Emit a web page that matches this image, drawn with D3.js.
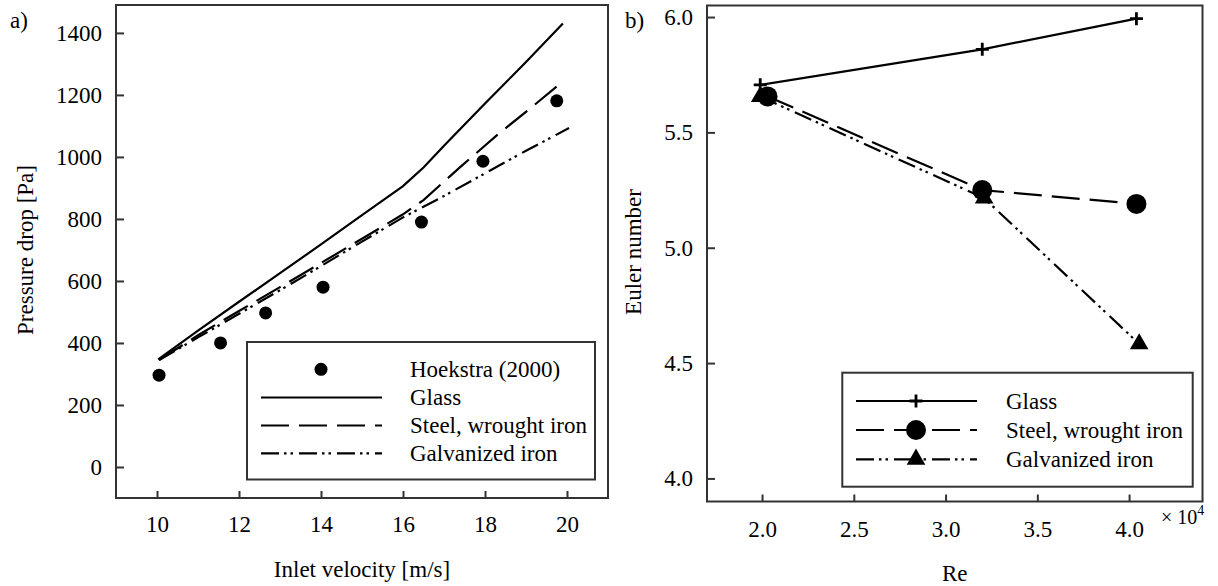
<!DOCTYPE html>
<html>
<head>
<meta charset="utf-8">
<script src="https://cdn.jsdelivr.net/npm/d3@7"></script>
<style>
  html, body { margin: 0; padding: 0; background: #fff; }
  svg { display: block; }
</style>
</head>
<body>
<svg id="chart" width="1218" height="586"></svg>
<script>
// ---------- Panel a: pressure drop vs inlet velocity ----------
const hoekstraVel = [10.05, 11.55, 12.65, 14.05, 16.45, 17.95, 19.75];
const hoekstraDp  = [296, 400, 497, 580, 790, 986, 1181];

const glassVel = [10.03, 11, 12, 13, 14, 15, 16, 16.5, 17, 18, 19, 19.9];
const glassDp  = [347, 440, 533, 625, 718, 812, 906, 966, 1036, 1172, 1306, 1430];

const steelVel = [10.05, 11, 12, 13, 14, 15, 16, 16.5, 17.4, 18.3, 19.2, 19.85];
const steelDp  = [345, 425, 503, 580, 658, 736, 815, 861, 968, 1071, 1167, 1238];

const galvVel = [10.05, 11, 12, 13, 14, 15, 16, 17, 18, 19, 20.05];
const galvDp  = [345, 418, 494, 570, 648, 727, 805, 874, 947, 1020, 1093];

const velTicks = [10, 12, 14, 16, 18, 20];
const dpTicks  = [0, 200, 400, 600, 800, 1000, 1200, 1400];

// ---------- Panel b: Euler number vs Reynolds number (x 10^4) ----------
const glassRe  = [1.99, 3.20, 4.04];
const glassEu  = [5.706, 5.86, 5.993];
const steelRe  = [2.03, 3.20, 4.04];
const steelEu  = [5.656, 5.25, 5.19];
const galvRe   = [1.99, 3.21, 4.055];
const galvEu   = [5.655, 5.215, 4.583];

const reTicks = [2.0, 2.5, 3.0, 3.5, 4.0];
const euTicks = [4.0, 4.5, 5.0, 5.5, 6.0];

const legendA = ["Hoekstra (2000)", "Glass", "Steel, wrought iron", "Galvanized iron"];
const legendB = ["Glass", "Steel, wrought iron", "Galvanized iron"];

const FONT = 23;
const SERIF = "'Liberation Serif', 'Times New Roman', serif";
const DASH_STEEL = "28,10";
const DASH_GALV = "18,5,2.5,4,2.5,6";

const svg = d3.select("#chart");

function zip(xs, ys) { return xs.map((x, i) => [x, ys[i]]); }

function frame(g, w, h) {
  g.append("rect").attr("x", 0).attr("y", 0).attr("width", w).attr("height", h)
    .attr("fill", "none").attr("stroke", "#333").attr("stroke-width", 2);
}

function styleAxis(sel) {
  sel.select(".domain").remove();
  sel.selectAll(".tick line").attr("stroke", "#333").attr("stroke-width", 2);
  sel.selectAll(".tick text")
    .style("font-family", SERIF).style("font-size", FONT + "px").attr("fill", "#000");
}

function label(parent, size) {
  return parent.append("text")
    .style("font-family", SERIF).style("font-size", (size || FONT) + "px").attr("fill", "#000");
}

// ===== Panel a =====
{
  const L = 116, T = 5, R = 608, B = 498;
  const w = R - L, h = B - T;
  const x = d3.scaleLinear().domain([9, 21]).range([0, w]);
  const y = d3.scaleLinear().domain([-100, 1490]).range([h, 0]);
  const g = svg.append("g").attr("transform", `translate(${L},${T})`);

  g.append("g").attr("transform", `translate(0,${h})`)
    .call(d3.axisBottom(x).tickValues(velTicks).tickSize(-7).tickPadding(18).tickFormat(d3.format("d")))
    .call(styleAxis);
  g.append("g")
    .call(d3.axisLeft(y).tickValues(dpTicks).tickSize(-8).tickPadding(14).tickFormat(d3.format("d")))
    .call(styleAxis);

  const line = d3.line().x(d => x(d[0])).y(d => y(d[1]));
  const series = [
    { v: glassVel, p: glassDp, dash: null },
    { v: steelVel, p: steelDp, dash: DASH_STEEL },
    { v: galvVel, p: galvDp, dash: DASH_GALV }
  ];
  series.forEach(s => {
    g.append("path").datum(zip(s.v, s.p)).attr("d", line)
      .attr("fill", "none").attr("stroke", "#000").attr("stroke-width", 2.2)
      .attr("stroke-dasharray", s.dash);
  });

  g.selectAll("circle.pt").data(zip(hoekstraVel, hoekstraDp)).join("circle")
    .attr("class", "pt").attr("cx", d => x(d[0])).attr("cy", d => y(d[1]))
    .attr("r", 6.5).attr("fill", "#000");

  frame(g, w, h);

  // legend
  const lg = svg.append("g");
  lg.append("rect").attr("x", 247).attr("y", 342).attr("width", 348).attr("height", 137.5)
    .attr("fill", "#fff").attr("stroke", "#333").attr("stroke-width", 2);
  const rows = [369.3, 397.5, 425.5, 453.3];
  lg.append("circle").attr("cx", 321).attr("cy", rows[0]).attr("r", 6.5).attr("fill", "#000");
  [null, DASH_STEEL, DASH_GALV].forEach((dash, i) => {
    lg.append("line").attr("x1", 261).attr("x2", 382).attr("y1", rows[i + 1]).attr("y2", rows[i + 1])
      .attr("stroke", "#000").attr("stroke-width", 2.2).attr("stroke-dasharray", dash);
  });
  legendA.forEach((t, i) => {
    label(lg).attr("x", 410).attr("y", rows[i]).attr("dy", "0.33em").text(t);
  });

  label(svg).attr("x", (L + R) / 2).attr("y", 577).attr("text-anchor", "middle")
    .text("Inlet velocity [m/s]");
  label(svg).attr("transform", "translate(33,250) rotate(-90)").attr("text-anchor", "middle")
    .text("Pressure drop [Pa]");
  label(svg).attr("x", 10).attr("y", 28).text("a)");
}

// ===== Panel b =====
{
  const L = 707, T = 5.5, R = 1202.5, B = 501.5;
  const w = R - L, h = B - T;
  const x = d3.scaleLinear().domain([1.7, 4.4]).range([0, w]);
  const y = d3.scaleLinear().domain([3.9, 6.05]).range([h, 0]);
  const g = svg.append("g").attr("transform", `translate(${L},${T})`);

  g.append("g").attr("transform", `translate(0,${h})`)
    .call(d3.axisBottom(x).tickValues(reTicks).tickSize(-7).tickPadding(19.5).tickFormat(d3.format(".1f")))
    .call(styleAxis);
  g.append("g")
    .call(d3.axisLeft(y).tickValues(euTicks).tickSize(-8).tickPadding(14).tickFormat(d3.format(".1f")))
    .call(styleAxis);

  const line = d3.line().x(d => x(d[0])).y(d => y(d[1]));
  const plusPath = "M-6.5,0H6.5M0,-6.5V6.5";
  const tri = d3.symbol().type(d3.symbolTriangle).size(150)();

  const series = [
    { re: glassRe, eu: glassEu, dash: null, mark: "plus" },
    { re: steelRe, eu: steelEu, dash: DASH_STEEL, mark: "circle" },
    { re: galvRe, eu: galvEu, dash: DASH_GALV, mark: "tri" }
  ];

  function drawMarker(sel, mark) {
    if (mark === "plus") {
      sel.append("path").attr("d", plusPath).attr("stroke", "#000").attr("stroke-width", 2.8).attr("fill", "none");
    } else if (mark === "circle") {
      sel.append("circle").attr("r", 10).attr("fill", "#000");
    } else {
      sel.append("path").attr("d", tri).attr("fill", "#000");
    }
  }

  series.forEach(s => {
    g.append("path").datum(zip(s.re, s.eu)).attr("d", line)
      .attr("fill", "none").attr("stroke", "#000").attr("stroke-width", 2.2)
      .attr("stroke-dasharray", s.dash);
  });
  series.forEach(s => {
    zip(s.re, s.eu).forEach(d => {
      const m = g.append("g").attr("transform", `translate(${x(d[0])},${y(d[1])})`);
      drawMarker(m, s.mark);
    });
  });

  frame(g, w, h);

  // legend
  const lg = svg.append("g");
  lg.append("rect").attr("x", 842.3).attr("y", 372.7).attr("width", 350.4).attr("height", 114)
    .attr("fill", "#fff").attr("stroke", "#333").attr("stroke-width", 2);
  const rows = [401, 430, 459.3];
  series.forEach((s, i) => {
    lg.append("line").attr("x1", 856).attr("x2", 977).attr("y1", rows[i]).attr("y2", rows[i])
      .attr("stroke", "#000").attr("stroke-width", 2.2).attr("stroke-dasharray", s.dash);
    const m = lg.append("g").attr("transform", `translate(916,${rows[i]})`);
    drawMarker(m, s.mark);
    label(lg).attr("x", 1006).attr("y", rows[i]).attr("dy", "0.33em").text(legendB[i]);
  });

  label(svg).attr("x", (L + R) / 2).attr("y", 581).attr("text-anchor", "middle").text("Re");
  label(svg).attr("transform", "translate(641,252) rotate(-90)").attr("text-anchor", "middle")
    .text("Euler number");
  label(svg).attr("x", 625).attr("y", 28).text("b)");

  // axis multiplier for Re
  const mult = label(svg, 20).attr("x", 1161).attr("y", 523.5);
  mult.append("tspan").text("\u00d7 10");
  mult.append("tspan").style("font-size", "14px").attr("dy", -9).text("4");
}
</script>
</body>
</html>
